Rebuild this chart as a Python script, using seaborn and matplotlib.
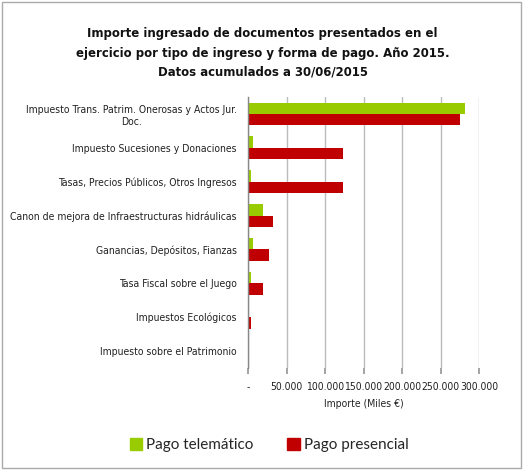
import matplotlib
matplotlib.use("Agg")
import matplotlib.pyplot as plt
import seaborn as sns
import pandas as pd
from matplotlib import font_manager
from matplotlib.font_manager import FontProperties
from matplotlib.textpath import TextPath
from matplotlib.patches import Rectangle

categorias = [
    "Impuesto Trans. Patrim. Onerosas y Actos Jur.\nDoc.",
    "Impuesto Sucesiones y Donaciones",
    "Tasas, Precios Públicos, Otros Ingresos",
    "Canon de mejora de Infraestructuras hidráulicas",
    "Ganancias, Depósitos, Fianzas",
    "Tasa Fiscal sobre el Juego",
    "Impuestos Ecológicos",
    "Impuesto sobre el Patrimonio",
]
pago_telematico = [281800, 6500, 3900, 19900, 6100, 3500, 200, 0]
pago_presencial = [275300, 123400, 123800, 32500, 27700, 19500, 3500, 1200]
series = ["Pago telemático", "Pago presencial"]
tick_vals = [0, 50000, 100000, 150000, 200000, 250000, 300000]
tick_labels = ["-", "50.000", "100.000", "150.000", "200.000", "250.000", "300.000"]
colores = ["#99CC00", "#C00000"]
titulo = ["Importe ingresado de documentos presentados en el",
          "ejercicio por tipo de ingreso y forma de pago. Año 2015.",
          "Datos acumulados a 30/06/2015"]


def pick(weight):
    cands = []
    for f in font_manager.fontManager.ttflist:
        n = f.name.lower()
        st = str(f.stretch).lower()
        narrowish = ("narrow" in n or "condensed" in n or "condensed" in st)
        if narrowish and f.style == "normal":
            w = f.weight if isinstance(f.weight, int) else (700 if "bold" in str(f.weight) else 400)
            cands.append((abs(w - weight), f.fname))
    if cands:
        cands.sort()
        return FontProperties(fname=cands[0][1])
    return FontProperties(family="Liberation Sans", weight="bold" if weight >= 700 else "normal")


fp_reg = pick(400)
fp_bold = pick(700)


def fit_size(fp, text, target_px):
    w = TextPath((0, 0), text, size=10, prop=fp).get_extents().width
    return 10 * target_px / (w * 100 / 72)


lab_size = fit_size(fp_reg, "Canon de mejora de Infraestructuras hidráulicas", 226)
title_size = fit_size(fp_bold, titulo[0], 349)

df = pd.DataFrame({
    "cat": categorias * 2,
    "valor": pago_telematico + pago_presencial,
    "serie": [series[0]] * len(categorias) + [series[1]] * len(categorias),
})

sns.set_theme(style="white")
plt.rcParams["font.family"] = ["Liberation Sans", "DejaVu Sans"]

fig = plt.figure(figsize=(5.23, 4.70), dpi=100)
ax = fig.add_axes([248 / 523, 1 - 368 / 470, (479 - 248) / 523, (368 - 97) / 470])

sns.barplot(data=df, y="cat", x="valor", hue="serie", order=categorias,
            hue_order=series, palette=colores, orient="h", width=0.67,
            ax=ax, legend=False, saturation=1, linewidth=0)

ax.set_xlim(0, 300000)
ax.set_ylim(len(categorias) - 0.5, -0.5)
ax.set_xticks(tick_vals)
ax.set_xticklabels(tick_labels)
ax.tick_params(axis="x", length=4, color="#999999", pad=6, direction="out", bottom=True)
ax.tick_params(axis="y", length=0, pad=8)
for lbl in ax.get_xticklabels():
    lbl.set_fontproperties(fp_reg)
    lbl.set_fontsize(lab_size)
    lbl.set_color("#222222")
for lbl in ax.get_yticklabels():
    lbl.set_fontproperties(fp_reg)
    lbl.set_fontsize(lab_size)
    lbl.set_color("#222222")
    lbl.set_horizontalalignment("right")
    lbl.set_multialignment("center")
ax.set_ylabel("")
ax.set_xlabel("Importe (Miles €)", labelpad=5, color="#222222")
ax.xaxis.label.set_fontproperties(fp_reg)
ax.xaxis.label.set_fontsize(lab_size)
ax.grid(axis="x", color="#BBBBBB", linewidth=1)
ax.set_axisbelow(True)
for s in ["top", "right", "bottom"]:
    ax.spines[s].set_visible(False)
ax.spines["left"].set_color("#888888")
ax.spines["left"].set_linewidth(1)

for linea, base in zip(titulo, [37.5, 56.5, 75.5]):
    t = fig.text(262.5 / 523, 1 - base / 470, linea, ha="center", va="baseline",
                 color="#111111")
    t.set_fontproperties(fp_bold)
    t.set_fontsize(title_size)

handles = [Rectangle((0, 0), 1, 1, color=c) for c in colores]
fig.legend(handles, series, loc="center", bbox_to_anchor=(0.515, 1 - 445 / 470),
           ncol=2, frameon=False, prop={"family": ["Lato", "DejaVu Sans"], "size": 11},
           handlelength=0.8, handleheight=0.8, handletextpad=0.3, columnspacing=2.2)

fig.patches.append(Rectangle((2 / 523, 2 / 470), 519 / 523, 466 / 470, transform=fig.transFigure,
                             fill=False, edgecolor="#AAAAAA", linewidth=1))

fig.savefig("out.png", dpi=100)
